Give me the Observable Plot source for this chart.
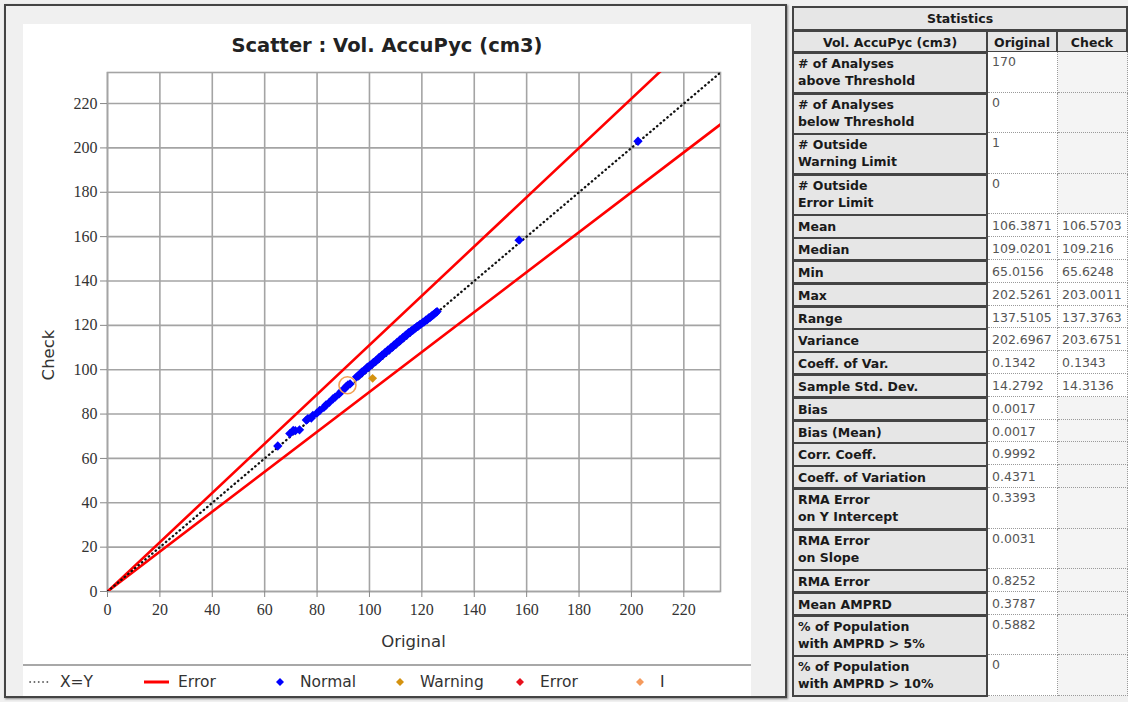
<!DOCTYPE html>
<html><head><meta charset="utf-8">
<script src="https://cdn.jsdelivr.net/npm/d3@7"></script>
<script src="https://cdn.jsdelivr.net/npm/@observablehq/plot@0.6"></script>
<style>
html,body{margin:0;padding:0}
body{background:#f0f0f0;width:1128px;height:702px;overflow:hidden;position:relative;font-family:"DejaVu Sans",sans-serif;color:#222}
.abs{position:absolute}
#panel{left:4px;top:4px;width:783px;height:694px;box-sizing:border-box;border:2px solid #444;box-shadow:1px 1px 2px #888}
#chartbg{left:23px;top:24px;width:728px;height:640px;background:#fff}
#legendbg{left:23px;top:664px;width:728px;height:32px;background:#fff;border-top:2px solid #a8a8a8;box-sizing:border-box}
#title{left:23px;width:728px;top:34px;text-align:center;font-weight:bold;font-size:19.5px;color:#222}
#xlabel{left:107px;width:613px;top:632px;text-align:center;font-size:16.5px;color:#333}
#ylabel{left:48px;top:355px;font-size:16.5px;color:#333;transform:translate(-50%,-50%) rotate(-90deg);white-space:nowrap}
.leg{top:672px;font-size:15.5px;color:#333;white-space:nowrap}
.cell{position:absolute;box-sizing:border-box;overflow:hidden;white-space:pre;font-size:12.5px;line-height:17px}
.lab{background:#e6e6e6;border:2px solid #444;font-weight:bold;color:#1a1a1a;padding:1px 0 0 4px}
.val{background:#fff;border-right:1px dotted #9a9a9a;border-bottom:1px dotted #9a9a9a;color:#555;padding:1px 0 0 4px}
.empty{background:#f4f4f4}
.hdr{background:#e6e6e6;border:2px solid #444;font-weight:bold;text-align:center;color:#1a1a1a;padding-top:2px}
</style>
</head><body>
<div id="panel" class="abs"></div>
<div id="chartbg" class="abs"></div>
<div id="legendbg" class="abs"></div>
<div id="plot" class="abs" style="left:23px;top:24px"></div>
<div id="title" class="abs">Scatter : Vol. AccuPyc (cm3)</div>
<div id="xlabel" class="abs">Original</div>
<div id="ylabel" class="abs">Check</div>
<div id="legend"></div>
<div id="table"></div>
<script>
// ---- chart data ----
const normalOriginal = [65.0, 69.6, 70.9, 71.7, 73.3, 75.9, 76.5, 77.8, 78.4, 79.9,
  81.0, 82.6, 83.4, 84.7, 86.1, 86.9, 88.4, 89.2, 90.3, 91.1,
  91.8, 92.6, 95.1, 95.8, 96.4, 97.0, 97.6, 98.1, 98.7, 99.2,
  99.8, 100.3, 100.9, 101.5, 102.0, 102.6, 103.1, 103.7, 104.2, 104.8,
  105.3, 105.9, 106.4, 107.0, 107.5, 108.1, 108.6, 109.0, 109.4, 109.9,
  110.5, 111.0, 111.6, 112.1, 112.7, 113.2, 113.8, 114.3, 114.9, 115.4,
  116.0, 116.5, 117.1, 117.6, 118.2, 118.7, 119.3, 119.8, 120.4, 120.9,
  121.5, 122.0, 122.6, 123.1, 123.7, 124.2, 124.8, 125.3, 125.8, 157.1,
  202.5];
const normalCheck = [65.6, 71.2, 72.6, 72.5, 72.9, 77.3, 77.9, 78.2, 79.4, 80.4,
  81.6, 83.0, 84.1, 85.3, 86.9, 87.6, 89.1, 90.2, 91.2, 92.4,
  93.1, 93.6, 96.8, 97.4, 97.8, 98.9, 99.2, 99.8, 100.3, 101.1,
  101.2, 102.0, 102.4, 103.3, 103.4, 104.3, 104.5, 105.5, 105.7, 106.6,
  106.8, 107.7, 107.9, 108.8, 108.9, 109.8, 110.1, 110.4, 111.2, 111.3,
  112.3, 112.4, 113.4, 113.5, 114.5, 114.6, 115.6, 115.6, 116.7, 116.7,
  117.6, 117.8, 118.5, 118.8, 119.5, 119.7, 120.4, 120.7, 121.3, 121.6,
  122.3, 122.5, 123.3, 123.5, 124.2, 124.6, 125.2, 125.7, 126.2, 158.4,
  203.0];
const warningOriginal = [101.2];
const warningCheck = [96.1];
const highlightOriginal = [91.6];
const highlightCheck = [93.0];
const axisTicks = [0, 20, 40, 60, 80, 100, 120, 140, 160, 180, 200, 220];
const axisMax = 234;
const errorSlopes = [1 / 0.9, 0.9];

// ---- legend data ----
const legendLabels = ["X=Y", "Error", "Normal", "Warning", "Error", "I"];
const legendKinds = ["dots", "line", "diamond", "diamond", "diamond", "diamond"];
const legendColors = ["#333333", "#ff0000", "#0000ff", "#d4920f", "#e8101c", "#f59a5c"];

// ---- table data ----
const statLabels = ["# of Analyses\nabove Threshold", "# of Analyses\nbelow Threshold", "# Outside\nWarning Limit", "# Outside\nError Limit",
  "Mean", "Median", "Min", "Max", "Range", "Variance", "Coeff. of Var.", "Sample Std. Dev.", "Bias", "Bias (Mean)", "Corr. Coeff.",
  "Coeff. of Variation", "RMA Error\non Y Intercept", "RMA Error\non Slope", "RMA Error", "Mean AMPRD",
  "% of Population\nwith AMPRD > 5%", "% of Population\nwith AMPRD > 10%"];
const statOriginal = ["170", "0", "1", "0", "106.3871", "109.0201", "65.0156", "202.5261", "137.5105", "202.6967", "0.1342", "14.2792",
  "0.0017", "0.0017", "0.9992", "0.4371", "0.3393", "0.0031", "0.8252", "0.3787", "0.5882", "0"];
const statCheck = ["", "", "", "", "106.5703", "109.216", "65.6248", "203.0011", "137.3763", "203.6751", "0.1343", "14.3136",
  "", "", "", "", "", "", "", "", "", ""];

// ---- plot ----
const normal = normalOriginal.map((x, i) => ({x, y: normalCheck[i]}));
const warning = warningOriginal.map((x, i) => ({x, y: warningCheck[i]}));
const highlight = highlightOriginal.map((x, i) => ({x, y: highlightCheck[i]}));
const identity = [{x: 0, y: 0}, {x: axisMax, y: axisMax}];
const errorLines = errorSlopes.flatMap(s => [{s, x: 0, y: 0}, {s, x: axisMax, y: axisMax * s}]);
const grid = "#a4a4a4";

const chart = Plot.plot({
  width: 728, height: 640,
  marginLeft: 84, marginTop: 48, marginRight: 31, marginBottom: 73,
  style: {background: "transparent", color: "#333", overflow: "visible"},
  x: {domain: [0, axisMax]},
  y: {domain: [0, axisMax]},
  marks: [
    Plot.gridX(axisTicks, {stroke: grid, strokeOpacity: 1, strokeWidth: 1.6}),
    Plot.gridY(axisTicks, {stroke: grid, strokeOpacity: 1, strokeWidth: 1.6}),
    Plot.frame({stroke: grid, strokeWidth: 1.6}),
    Plot.axisX({ticks: axisTicks, tickSize: 6, tickPadding: 6, fontSize: 16, fontFamily: "Liberation Serif", label: null, stroke: "#888"}),
    Plot.axisY({ticks: axisTicks, tickSize: 7, tickPadding: 3, fontSize: 16, fontFamily: "Liberation Serif", label: null, stroke: "#888"}),
    Plot.line(errorLines, {x: "x", y: "y", z: "s", stroke: "#ff0000", strokeWidth: 2.6, clip: true}),
    Plot.line(identity, {x: "x", y: "y", stroke: "#111", strokeWidth: 2.3, strokeDasharray: "0.5 4", strokeLinecap: "round", clip: true}),
    Plot.dot(normal, {x: "x", y: "y", symbol: "diamond2", r: 4.2, fill: "#0000ff"}),
    Plot.dot(warning, {x: "x", y: "y", symbol: "diamond2", r: 4, fill: "#d4920f"}),
    Plot.dot(highlight, {x: "x", y: "y", r: 8.5, stroke: "#f2a155", strokeWidth: 1.6, fill: "none"})
  ]
});
document.getElementById("plot").appendChild(chart);

// ---- legend ----
const legend = document.getElementById("legend");
legendLabels.forEach((lab, i) => {
  const left = 28 + i * 120;
  const kind = legendKinds[i], col = legendColors[i];
  let icon = "";
  if (kind === "dots") icon = `<svg width="24" height="10" style="vertical-align:middle"><line x1="2" y1="5" x2="22" y2="5" stroke="${col}" stroke-width="1.6" stroke-dasharray="0.3 4" stroke-linecap="round"/></svg>`;
  else if (kind === "line") icon = `<svg width="26" height="10" style="vertical-align:middle"><line x1="0" y1="5" x2="25" y2="5" stroke="${col}" stroke-width="3"/></svg>`;
  else icon = `<svg width="24" height="10" style="vertical-align:middle"><path d="M12,1 L16,5 L12,9 L8,5Z" fill="${col}"/></svg>`;
  const d = document.createElement("div");
  d.className = "abs leg";
  d.style.left = (kind === "line" ? left - 4 : left) + "px";
  d.innerHTML = icon + `<span style="margin-left:8px;vertical-align:middle">${lab}</span>`;
  legend.appendChild(d);
});

// ---- table ----
const table = document.getElementById("table");
const tx = 792, cw = [196, 70, 70];
function cell(cls, x, y, w, h, text, extra) {
  const d = document.createElement("div");
  d.className = "cell " + cls;
  Object.assign(d.style, {left: x + "px", top: y + "px", width: w + "px", height: h + "px"}, extra || {});
  d.textContent = text;
  table.appendChild(d);
}
cell("hdr", tx, 6, cw[0] + cw[1] + cw[2], 25, "Statistics");
cell("hdr", tx, 30, cw[0], 23, "Vol. AccuPyc (cm3)");
cell("hdr", tx + cw[0] - 2, 30, cw[1] + 2, 23, "Original");
cell("hdr", tx + cw[0] + cw[1] - 2, 30, cw[2] + 2, 23, "Check");
let y = 52;
statLabels.forEach((lab, i) => {
  const h = lab.includes("\n") ? 40.6 : 22.8;
  const single = !lab.includes("\n");
  cell("lab", tx, y, cw[0], h + 1.5, lab, single ? {paddingTop: "2px"} : {});
  cell("val", tx + cw[0], y, cw[1], h, statOriginal[i], single ? {paddingTop: "3px"} : {});
  cell("val" + (statCheck[i] ? "" : " empty"), tx + cw[0] + cw[1], y, cw[2], h, statCheck[i], single ? {paddingTop: "3px"} : {});
  y += h;
});
</script>
</body></html>
